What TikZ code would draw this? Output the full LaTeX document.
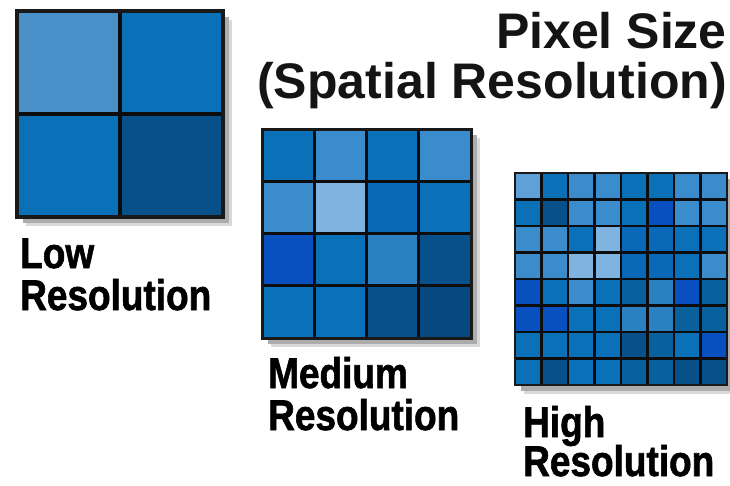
\documentclass[tikz,border=0pt]{standalone}
\usepackage{fontspec}
\setmainfont{Liberation Sans}
\newfontfamily\labfont{Liberation Sans}[BoldFeatures={FakeBold=1.5}]
\definecolor{pM}{HTML}{0A70B8}
\definecolor{pL}{HTML}{3A8CCC}
\definecolor{pT}{HTML}{4A90C8}
\definecolor{pV}{HTML}{80B4E0}
\definecolor{pD}{HTML}{08508A}
\definecolor{pE}{HTML}{08609C}
\definecolor{pR}{HTML}{0850C0}
\definecolor{pB}{HTML}{2A80C0}
\definecolor{pK}{HTML}{0A68B8}
\definecolor{pX}{HTML}{084880}
\definecolor{pY}{HTML}{60A0D8}
\newcommand{\pixgrid}[6]{%
  % #1 x0, #2 y0, #3 size, #4 n, #5 line width, #6 colours
  \fill[gray!30] (#1+9,#2+9) rectangle +(#3,#3);
  \fill[gray!65] (#1+6,#2+6) rectangle +(#3,#3);
  \pgfmathsetmacro\cellsz{#3/#4}
  \foreach \c [count=\i from 0] in {#6} {
    \pgfmathtruncatemacro\cc{mod(\i,#4)}
    \pgfmathtruncatemacro\rr{\i/#4}
    \fill[\c] ({#1+\cc*\cellsz},{#2+\rr*\cellsz}) rectangle +(\cellsz,\cellsz);
  }
  \pgfmathtruncatemacro\nm{#4-1}
  \foreach \k in {1,...,\nm} {
    \draw[line width=#5,black!95] ({#1+\k*\cellsz},#2) -- +(0,#3);
    \draw[line width=#5,black!95] (#1,{#2+\k*\cellsz}) -- +(#3,0);
  }
  \draw[line width=#5,black!90] (#1,#2) rectangle +(#3,#3);
}
\tikzset{
  head/.style={font=\fontsize{50}{50}\selectfont\bfseries, text=black!92, inner sep=0pt},
  lab/.style={font=\fontsize{43}{43}\selectfont\labfont\bfseries, text=black, inner sep=0pt}
}
\begin{document}
\begin{tikzpicture}[x=1pt,y=-1pt]
\useasboundingbox[fill=white] (0,0) rectangle (730,485);

\pixgrid{17}{11}{206}{2}{3.5pt}{pT,pM,pM,pD}

\pixgrid{262}{129}{209}{4}{3pt}{pM,pL,pM,pL,
  pL,pV,pK,pM,
  pR,pM,pB,pD,
  pM,pM,pD,pX}

\pixgrid{515}{173}{212}{8}{2.6pt}{pY,pM,pL,pL,pM,pM,pL,pL,
  pM,pD,pL,pL,pM,pR,pL,pL,
  pL,pL,pM,pV,pK,pK,pM,pM,
  pL,pL,pV,pV,pK,pK,pM,pL,
  pR,pM,pL,pM,pE,pB,pR,pE,
  pR,pR,pM,pM,pB,pB,pE,pE,
  pM,pM,pM,pM,pD,pE,pM,pR,
  pM,pD,pM,pM,pE,pE,pD,pD}

\node[head, anchor=base east] (t1) at (727,48) {Pixel Size};
\node[head, anchor=base east] (t2) at (727,98) {(Spatial Resolution)};

\node[lab, anchor=base west] (l1) at (20,268) {\scalebox{0.86}[1]{Low}};
\node[lab, anchor=base west] (l2) at (20,310) {\scalebox{0.86}[1]{Resolution}};
\node[lab, anchor=base west] (m1) at (268,388) {\scalebox{0.86}[1]{Medium}};
\node[lab, anchor=base west] (m2) at (268,430) {\scalebox{0.86}[1]{Resolution}};
\node[lab, anchor=base west] (h1) at (523,437) {\scalebox{0.86}[1]{High}};
\node[lab, anchor=base west] (h2) at (523,476) {\scalebox{0.86}[1]{Resolution}};
\end{tikzpicture}
\end{document}
